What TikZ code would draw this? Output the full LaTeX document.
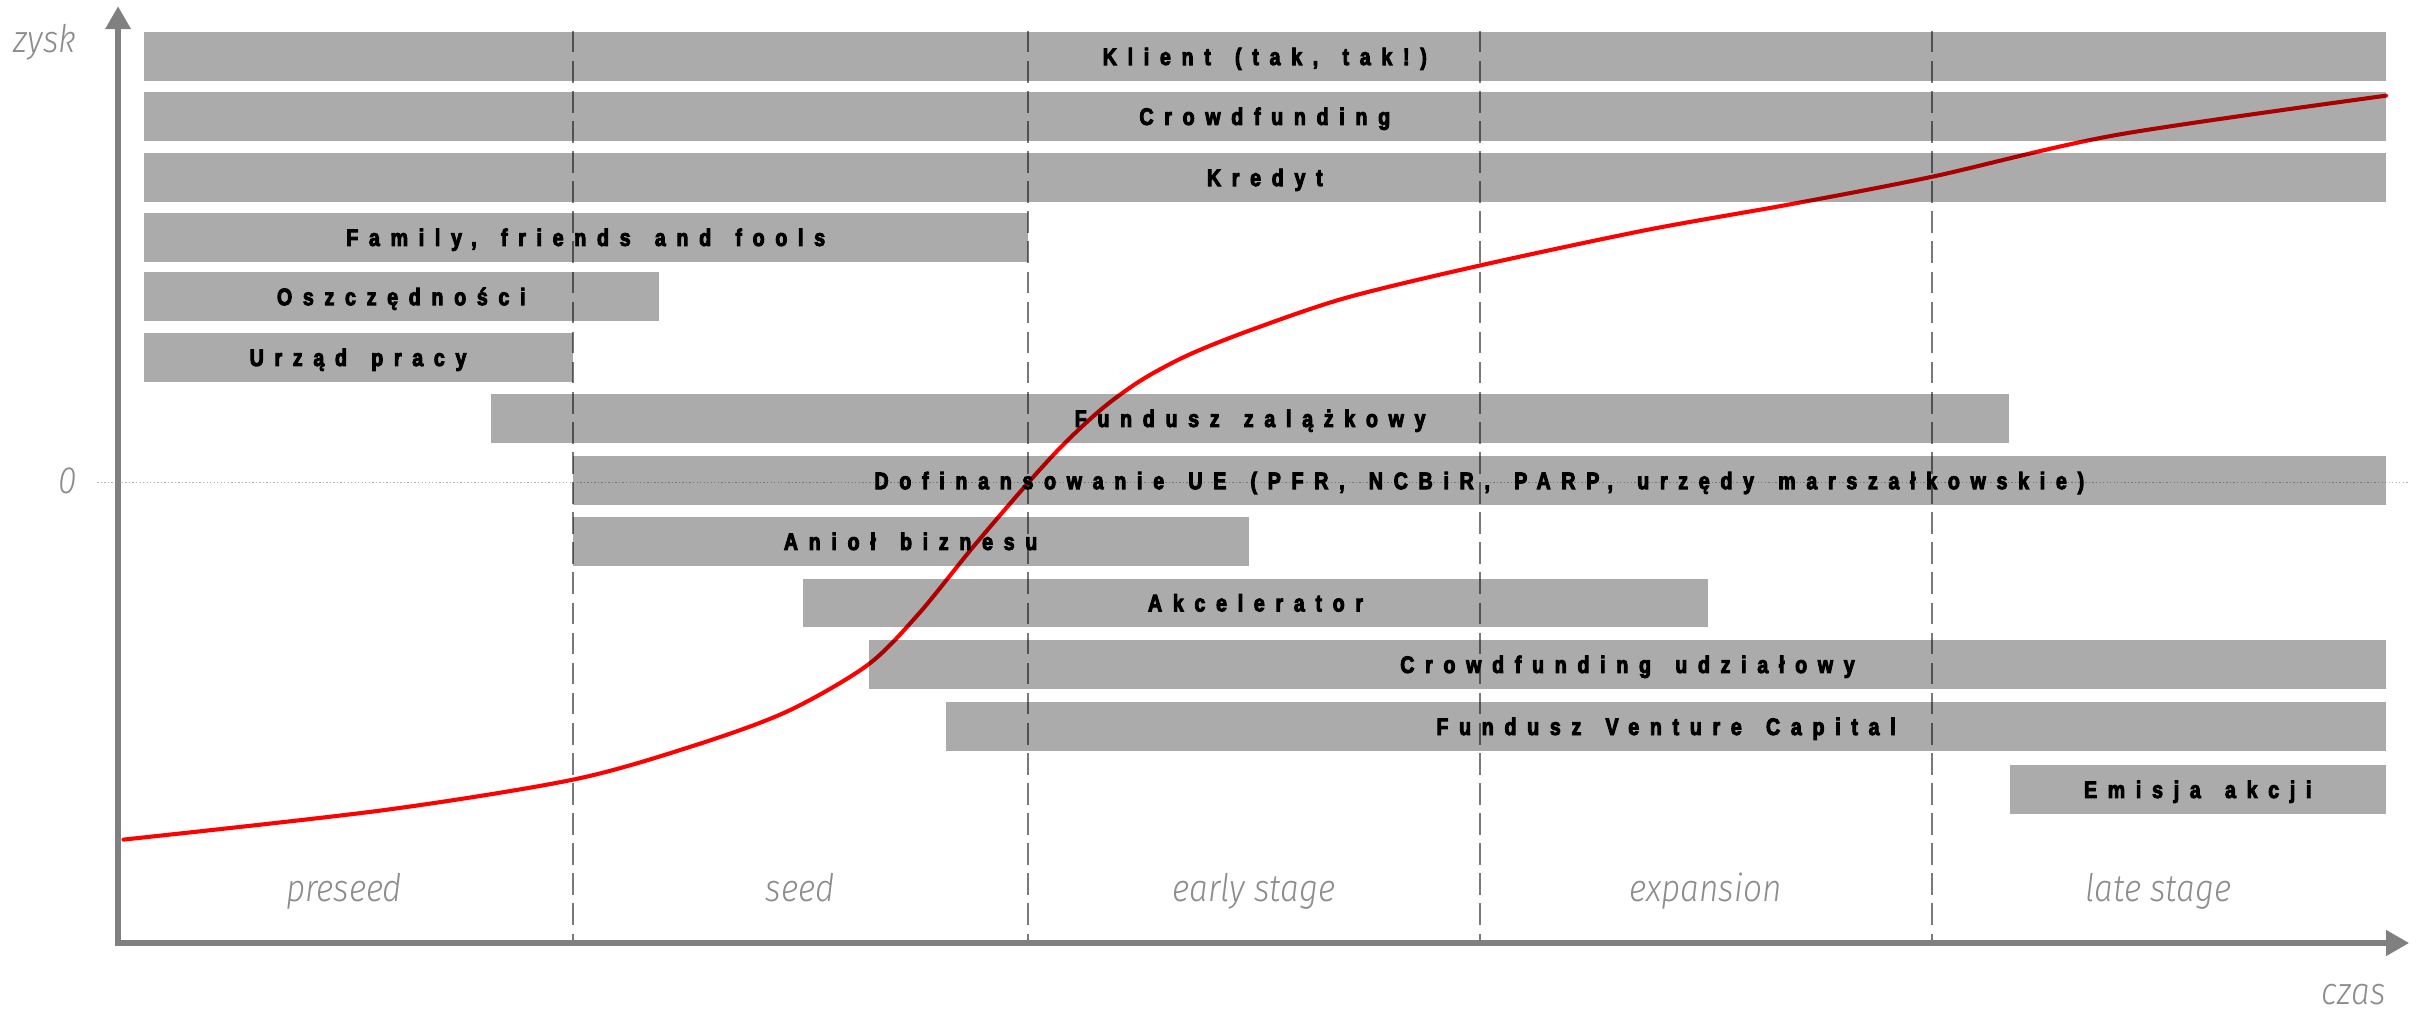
\documentclass[tikz,border=0pt]{standalone}
\usepackage{fontspec}
\usetikzlibrary{arrows.meta}

\newfontfamily\barfont{Liberation Sans Bold}[FakeStretch=0.82,LetterSpace=45,WordSpace=1.5,FakeBold=4]
\newfontfamily\axisfont{Fira Sans Light Italic}[FakeStretch=0.88]

\begin{document}
\begin{tikzpicture}[x=0.02cm,y=-0.02cm]

  \tikzset{BAR/.style={fill=black, fill opacity=0.33, text opacity=1, inner sep=0pt,
      minimum height=0.628cm, text height=6.3pt, text depth=0pt,
      font={\barfont\fontsize{8.8}{11}\selectfont}}}
  \tikzset{STG/.style={anchor=base, text=gray!90, inner sep=0pt,
      font={\axisfont\fontsize{14}{16}\selectfont}}}
  \tikzset{AXS/.style={draw=gray, line width=2.5pt, >={Triangle[length=8.5pt,width=9pt]}}}
  \tikzset{SEP/.style={draw=gray!95!black, line width=0.7pt, dash pattern=on 0.28cm off 0.11cm}}
  \tikzset{ZER/.style={draw=gray!60, line width=0.5pt, dash pattern=on 0.5pt off 0.8pt}}
  \tikzset{CRV/.style={draw=red, line width=1.5pt, line cap=round}}

  \useasboundingbox (0,0) rectangle (1568,655);

  \coordinate (ytop) at (76.5,4);
  \coordinate (orig) at (76.5,611);
  \coordinate (xend) at (1561,611);

  \draw[ZER] (63,312.5) -- (1560,312.5);

  \draw[SEP] (371,20) -- (371,609);
  \draw[SEP] (666,20) -- (666,609);
  \draw[SEP] (959,20) -- (959,609);
  \draw[SEP] (1251.5,20) -- (1251.5,609);

  \draw[CRV] plot[smooth, tension=0.5] coordinates {
      (80,544) (248,525) (372,505) (450,483) (510,461) (562,431) (595,398)
      (630,355) (666,313) (690,287) (715,264) (740,246) (770,230) (810,214)
      (872,193) (959,172) (1067,149) (1162,132) (1252,114.5) (1371,87.5) (1546,62)};

  \node[BAR, minimum width=29.06cm] (klient) at (819.5,36.6)  {Klient (tak, tak!)};
  \node[BAR, minimum width=29.06cm] (crowd)  at (819.5,75.4)  {Crowdfunding};
  \node[BAR, minimum width=29.06cm] (kred)   at (819.5,115)   {Kredyt};
  \node[BAR, minimum width=11.46cm] (fff)    at (379.5,153.8) {Family, friends and fools};
  \node[BAR, minimum width=6.68cm]  (oszcz)  at (260,192.2)   {Oszczędności};
  \node[BAR, minimum width=5.56cm]  (urzad)  at (232,231.6)   {Urząd pracy};
  \node[BAR, minimum width=19.68cm] (zal)    at (810,271.1)   {Fundusz zalążkowy};
  \node[BAR, minimum width=23.5cm]  (dofin)  at (958.5,311.4) {Dofinansowanie UE (PFR, NCBiR, PARP, urzędy marszałkowskie)};
  \node[BAR, minimum width=8.76cm]  (aniol)  at (590,350.8)   {Anioł biznesu};
  \node[BAR, minimum width=11.74cm] (akcel)  at (813.5,390.6) {Akcelerator};
  \node[BAR, minimum width=19.66cm] (udz)    at (1054.5,430.5) {Crowdfunding udziałowy};
  \node[BAR, minimum width=18.66cm] (vc)     at (1079.5,470.7) {Fundusz Venture Capital};
  \node[BAR, minimum width=4.88cm]  (emis)   at (1424,511.5)  {Emisja akcji};

  \node[STG] (preseed) at (223,584)  {preseed};
  \node[STG] (seed)    at (518.5,584) {seed};
  \node[STG] (early)   at (812.5,584) {early stage};
  \node[STG] (expan)   at (1105,584) {expansion};
  \node[STG] (late)    at (1398.5,584) {late stage};

  \node[STG] (zysk) at (29,34) {zysk};
  \node[STG] (zero) at (44,320) {0};
  \node[STG, anchor=base east] (czas) at (1546,651) {czas};

  \draw[AXS,<->] (ytop) -- (orig) -- (xend);
\end{tikzpicture}
\end{document}
